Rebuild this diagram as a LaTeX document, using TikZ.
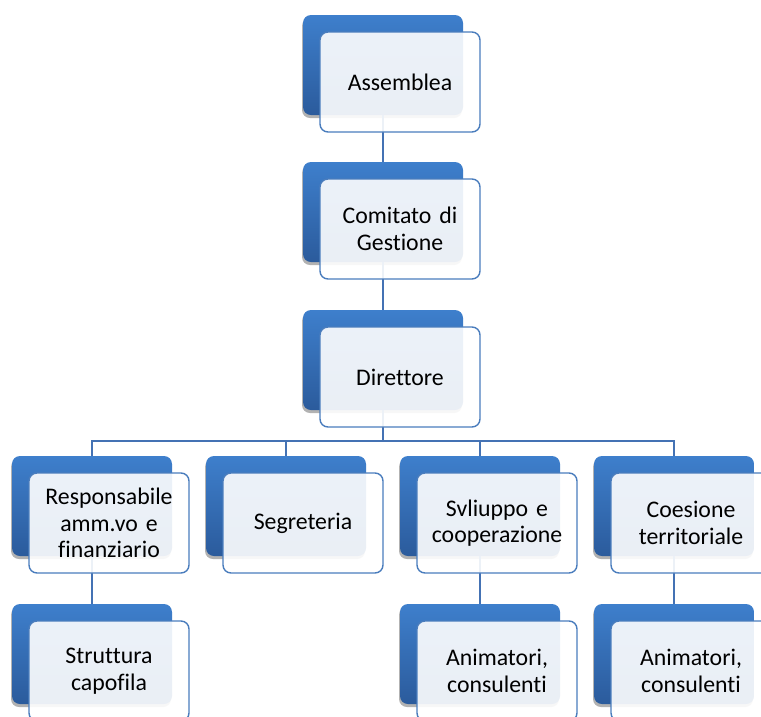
\documentclass[tikz,border=0pt]{standalone}
\usepackage{fontspec}
\setmainfont[Ligatures=NoCommon]{Carlito}
\usetikzlibrary{shadows}
\definecolor{backtop}{HTML}{3E7FCC}
\definecolor{backbot}{HTML}{2B5B9C}
\definecolor{edgeblue}{HTML}{4A7DBD}
\definecolor{linkblue}{HTML}{4472B4}
\tikzset{
  backbox/.style={rectangle, rounded corners=8pt, minimum width=160pt, minimum height=100pt,
    inner sep=0pt, top color=backtop, bottom color=backbot, draw=none,
    drop shadow={shadow xshift=-1pt, shadow yshift=-3pt, opacity=0.3, fill=black}},
  frontbox/.style={rectangle, rounded corners=8pt, minimum width=160pt, minimum height=100pt,
    inner sep=0pt, draw=edgeblue, line width=1.4pt, fill=white, fill opacity=0.9, text opacity=1,
    text width=152pt, align=center, font=\fontsize{23.8pt}{26.5pt}\selectfont},
  link/.style={draw=linkblue, line width=1.7pt}
}
\begin{document}
\begin{tikzpicture}[x=1pt,y=-1pt]
\useasboundingbox (0,0) rectangle (761,716);
\clip (0,0) rectangle (761,716);
\fill[white] (0,0) rectangle (761,716);
% back boxes
\node[backbox] (b1) at (383,65) {};
\node[backbox] (b2) at (383,212) {};
\node[backbox] (b3) at (383,360) {};
\node[backbox] (c1) at (92,506) {};
\node[backbox] (c2) at (286,506) {};
\node[backbox] (c3) at (480,506) {};
\node[backbox] (c4) at (674,506) {};
\node[backbox] (d1) at (92,654) {};
\node[backbox] (d3) at (480,654) {};
\node[backbox] (d4) at (674,654) {};
\coordinate (bus) at (0,441);
% connectors
\draw[link] (b1.south) -- (b2.north);
\draw[link] (b2.south) -- (b3.north);
\draw[link] (b3.south) -- (b3.south |- bus) -| (c1.north);
\draw[link] (b3.south) -- (b3.south |- bus) -| (c2.north);
\draw[link] (b3.south) -- (b3.south |- bus) -| (c3.north);
\draw[link] (b3.south) -- (b3.south |- bus) -| (c4.north);
\draw[link] (c1.south) -- (d1.north);
\draw[link] (c3.south) -- (d3.north);
\draw[link] (c4.south) -- (d4.north);
% front boxes
\node[frontbox] (f1) at (400,82) {Assemblea};
\node[frontbox] (f2) at (400,229) {Comitato di\\Gestione};
\node[frontbox] (f3) at (400,377) {Direttore};
\node[frontbox] (g1) at (109,523) {Responsabile\\amm.vo e\\finanziario};
\node[frontbox] (g2) at (303,523) {Segreteria};
\node[frontbox] (g3) at (497,523) {Svliuppo e\\cooperazione};
\node[frontbox] (g4) at (691,523) {Coesione\\territoriale};
\node[frontbox] (h1) at (109,671) {Struttura\\capofila};
\node[frontbox] (h3) at (497,671) {Animatori,\\consulenti};
\node[frontbox] (h4) at (691,671) {Animatori,\\consulenti};
\end{tikzpicture}
\end{document}
